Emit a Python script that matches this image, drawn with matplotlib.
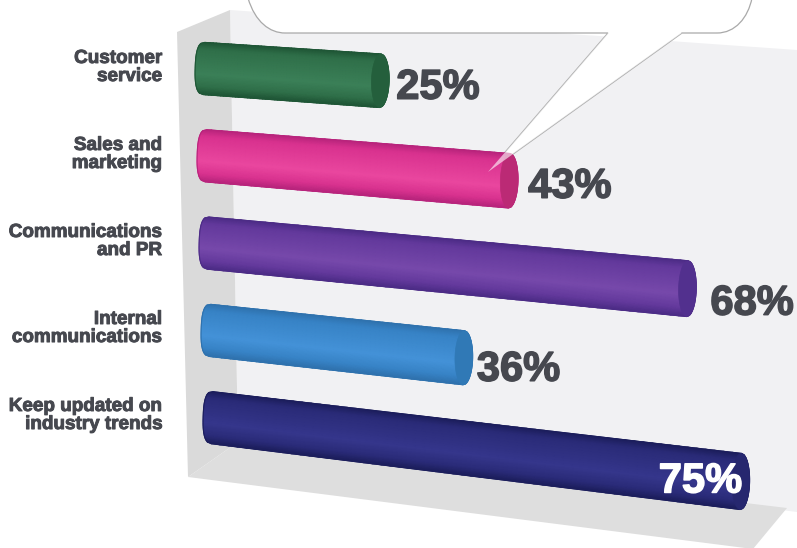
import numpy as np
import matplotlib
matplotlib.use("Agg")
import matplotlib.pyplot as plt
from matplotlib import transforms as mtransforms
from matplotlib.colors import LinearSegmentedColormap
from matplotlib.patches import Polygon, PathPatch
from matplotlib.path import Path
import matplotlib.patheffects as pe

# Survey results, top to bottom
categories = ["Customer\nservice", "Sales and\nmarketing", "Communications\nand PR",
              "Internal\ncommunications", "Keep updated on\nindustry trends"]
values = [25, 43, 68, 36, 75]

# Cylinder shading: rim, body, highlight, end cap
rim_colors = ["#1f5636", "#b8247c", "#4c2c86", "#2f72ae", "#1c1e5c"]
body_colors = ["#2f6f49", "#d9328f", "#63399c", "#3783c6", "#2a2b78"]
glow_colors = ["#3b8058", "#ea479f", "#7749ab", "#4492d8", "#35368c"]
cap_colors = ["#245f3c", "#bb2a75", "#52308e", "#3079b6", "#26276f"]

# Percent label nudges in pixels (right, down)
label_dx = [-2, 1, 5, -5, -1]
label_dy = [1, 0, 9, 6, -1]

TEXT = "#46484f"
BAR_RADIUS = 0.3  # in row units
CAP_HALF = 1.25   # in value units


class ShelfProjection(mtransforms.Transform):
    """Maps (percent, row) onto the slanted floor-to-wall perspective, in pixels."""
    input_dims = 2
    output_dims = 2

    def transform_non_affine(self, values):
        values = np.asarray(values, dtype=float)
        v, r = values[:, 0], values[:, 1]
        x = 204 + 2.0 * r + 7.05 * v
        y = 68.5 + 87.3 * r + (0.49 + 0.09 * r) * v
        return np.column_stack([x, y])


fig = plt.figure(figsize=(7.97, 5.48), dpi=100, facecolor="white")
ax = fig.add_axes([0, 0, 1, 1])
ax.set_xlim(0, 797)
ax.set_ylim(548, 0)
ax.axis("off")
plt.rcParams["font.family"] = ["Liberation Sans", "DejaVu Sans"]

# Box behind the bars: back wall, side wall, floor
ax.add_patch(Polygon([(230, 10), (797, 50), (797, 512), (238, 442)], fc="#f1f1f3", ec="none", zorder=1))
ax.add_patch(Polygon([(177, 32), (230, 10), (238, 442), (188, 477)], fc="#dadada", ec="none", zorder=2))
ax.add_patch(Polygon([(188, 477), (238, 442), (787, 508), (753, 549)], fc="#dedede", ec="none", zorder=2))

# Speech bubble coming from above the canvas, pointing at the second bar
tail = [(608, 33), (488, 172), (682, 33)]
bubble_verts = [(248, -2), (255, 22), (270, 33), (285, 33), tail[0], tail[1], tail[2],
                (717, 33), (735, 33), (748, 18), (752, -2), (248, -2)]
bubble_codes = [Path.MOVETO, Path.CURVE4, Path.CURVE4, Path.CURVE4, Path.LINETO, Path.LINETO, Path.LINETO,
                Path.LINETO, Path.CURVE4, Path.CURVE4, Path.CURVE4, Path.CLOSEPOLY]
ax.add_patch(PathPatch(Path(bubble_verts, bubble_codes), fc="white", ec="#a9a9a9", lw=0.9, zorder=3))

proj = ShelfProjection() + ax.transData
u = np.linspace(-1, 1, 41)
s = np.linspace(0, 1, 60)

for row, (val, rim, body, glow, cap) in enumerate(zip(values, rim_colors, body_colors, glow_colors, cap_colors)):
    cmap = LinearSegmentedColormap.from_list(
        f"bar{row}", [(0, rim), (0.14, body), (0.62, glow), (0.86, body), (1, rim)])
    left = -CAP_HALF * (1 - np.abs(u) ** 2.6) ** (1 / 2.6)
    right = val + CAP_HALF * np.sqrt(1 - u ** 2)
    S, U = np.meshgrid(s, u)
    L = left[:, None]
    R = right[:, None]
    V = L + (R - L) * S - 0.2 * U
    RR = row + BAR_RADIUS * U
    ax.pcolormesh(V, RR, U, cmap=cmap, vmin=-1, vmax=1, shading="gouraud", transform=proj, zorder=4)

    # Smooth outline round the mesh
    outline = np.vstack([np.column_stack([right - 0.2 * u, row + BAR_RADIUS * u]),
                         np.column_stack([left[::-1] - 0.2 * u[::-1], row + BAR_RADIUS * u[::-1]])])
    ax.add_patch(Polygon(outline, closed=True, fc="none", ec=rim, lw=0.8, transform=proj, zorder=5))

    # End cap
    t = np.linspace(0, 2 * np.pi, 80)
    cap_xy = np.column_stack([val + CAP_HALF * np.cos(t) - 0.2 * np.sin(t),
                              row + BAR_RADIUS * np.sin(t)])
    ax.add_patch(Polygon(cap_xy, closed=True, fc=cap, ec=cap, lw=0.5, transform=proj, zorder=6))

    # Category label, right aligned left of the box
    ax.text(162, 67.5 + 87 * row, categories[row], ha="right", va="center", fontsize=13.6,
            fontweight="bold", color=TEXT, linespacing=1.08, zorder=8,
            path_effects=[pe.withStroke(linewidth=0.7, foreground=TEXT)])

    # Percent label: outside the bar, except on the longest bar where it sits on the end
    inside = val == max(values)
    base = (-81, -1) if inside else (18, -6)
    ax.annotate(f"{val}%", xy=(val, row), xycoords=proj,
                xytext=(base[0] + label_dx[row], base[1] - label_dy[row]), textcoords="offset pixels",
                ha="left", va="center", fontsize=30, fontweight="bold",
                color="white" if inside else TEXT, zorder=9,
                path_effects=[pe.withStroke(linewidth=1.1, foreground="white" if inside else TEXT)])

# The bubble's pointer lies faintly over the bar it points to
ax.add_patch(Polygon(tail, closed=True, fc="white", ec="none", alpha=0.6, zorder=7))

ax.set_xlim(0, 797)
ax.set_ylim(548, 0)
fig.savefig("out.png", dpi=100, facecolor="white")
